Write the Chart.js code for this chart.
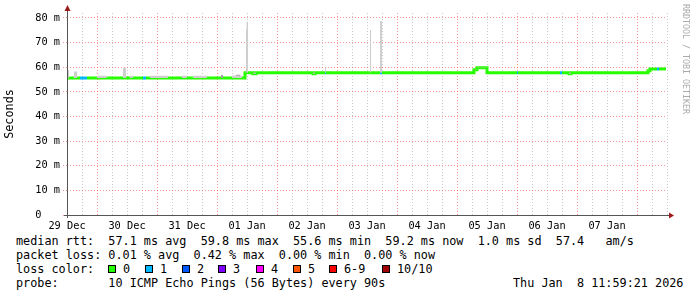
<!DOCTYPE html>
<html>
<head>
<meta charset="utf-8">
<script src="https://cdn.jsdelivr.net/npm/chart.js@4"></script>
<style>
    body { margin: 0; background: #fff; width: 697px; height: 297px; position: relative; overflow: hidden; }
    #wrap { position: absolute; left: 0; top: 0; width: 697px; height: 232px; }
    .row { position: absolute; left: 16px; font-family: "DejaVu Sans Mono", monospace; font-size: 11.8px; line-height: 14px; white-space: pre; color: #000; }
    .item { position: absolute; top: 0; white-space: pre; }
    .box { position: absolute; top: 3px; width: 8px; height: 8px; box-sizing: border-box; border: 1px solid #000; }
    #mark { position: absolute; left: 681px; top: 4px; writing-mode: vertical-rl; font-family: "DejaVu Sans Mono", monospace; font-size: 8.3px; color: #aaa; white-space: pre; }
</style>
</head>
<body>
<div id="wrap"><canvas id="smokeChart" width="697" height="232"></canvas></div>
<div id="mark">RRDTOOL / TOBI OETIKER</div>
<div class="row" style="top:234px">median rtt:  57.1 ms avg  59.8 ms max  55.6 ms min  59.2 ms now  1.0 ms sd  57.4   am/s</div>
<div class="row" style="top:248px">packet loss: 0.01 % avg  0.42 % max  0.00 % min  0.00 % now</div>
<div class="row" id="lossRow" style="top:262px">loss color:</div>
<div class="row" style="top:276px">probe:       10 ICMP Echo Pings (56 Bytes) every 90s</div>
<div class="row" style="top:276px; left:513px">Thu Jan  8 11:59:21 2026</div>

<script>
// hours since 29 Dec 12:00 (graph runs 240 h)
const dayLabels = ["29 Dec", "30 Dec", "31 Dec", "01 Jan", "02 Jan", "03 Jan", "04 Jan", "05 Jan", "06 Jan", "07 Jan"];

// median rtt (ms), step changes, and lost pings out of 10
const medHours  = [0, 5.2, 8, 30.4, 31.6, 71.2, 74.4, 75.6, 98.4, 99.2, 103.2, 103.6, 125.2, 126, 162.8, 164, 168, 180, 180.4, 197.2, 198, 200.8, 201.6, 232.4, 233.2, 236, 236.8, 239.6];
const medValues = [55.6, 55.6, 55.6, 55.6, 55.6, 57.7, 57.3, 57.7, 57.3, 57.7, 57.7, 57.7, 57.7, 57.7, 59.0, 59.8, 57.7, 57.7, 57.7, 57.7, 57.7, 57.3, 57.7, 58.6, 59.3, 59.3, 59.3, 59.3];
const medLoss   = [0, 1, 0, 1, 0, 0, 0, 0, 0, 0, 1, 0, 1, 0, 0, 0, 0, 1, 0, 1, 0, 0, 0, 0, 0, 1, 0, 0];

// smoke: upper edge of the ping spread (outer and inner)
const smokeHours = [0, 0.8, 2.8, 4, 12, 16, 22.4, 23.6, 25.2, 26.4, 33.2, 40.4, 46, 48, 50.4, 56, 66, 70, 71.8, 72.4, 103.2, 103.6, 121.2, 121.6, 125.2, 126, 239.6];
const smokeTop   = [58.9, 55.6, 58.3, 55.6, 56.5, 55.6, 59.8, 55.6, 56.5, 55.6, 56.5, 55.6, 56.5, 55.6, 56.5, 55.6, 56.6, 55.6, 78.4, 57.7, 59.8, 57.7, 75.1, 57.7, 78.8, 57.7, 57.7];
const darkHours  = [0, 61.6, 62.4, 67.6, 69.2, 71.8, 72.4, 103.2, 103.6, 125.2, 126, 239.6];
const darkTop    = [55.6, 56.8, 55.6, 56.9, 55.6, 75.4, 57.7, 59.8, 57.7, 74.7, 57.7, 57.7];

// legend for loss colours
const lossLabels = ["0", "1", "2", "3", "4", "5", "6-9", "10/10"];
const lossColors = ["#26ff00", "#00b8ff", "#0059ff", "#7e00ff", "#ff00ff", "#ff5500", "#ff0000", "#a10000"];

// y grid every 5 ms, labels every 10 ms
const yGrid = [0, 5, 10, 15, 20, 25, 30, 35, 40, 45, 50, 55, 60, 65, 70, 75, 80];

document.addEventListener("DOMContentLoaded", function () {
    // loss colour legend
    const lossRow = document.getElementById("lossRow");
    const boxLeft = [92, 129, 166, 202, 240, 277, 313, 366];
    lossLabels.forEach((label, i) => {
        let box = document.createElement("span");
        box.className = "box";
        box.style.left = boxLeft[i] + "px";
        box.style.background = lossColors[i];
        lossRow.appendChild(box);
        let txt = document.createElement("span");
        txt.className = "item";
        txt.style.left = (boxLeft[i] + 15) + "px";
        txt.textContent = label;
        lossRow.appendChild(txt);
    });

    const toPoints = (xs, ys) => xs.map((x, i) => ({ x: x, y: ys[i] }));
    const majorGrid = "rgba(255, 0, 0, 0.42)";
    const minorGrid = "rgba(128, 128, 128, 0.42)";

    // axes with arrows, like rrdtool draws them
    const axisArrows = {
        id: "axisArrows",
        afterDraw(chart) {
            const a = chart.chartArea;
            const c = chart.ctx;
            c.save();
            c.strokeStyle = "#555";
            c.lineWidth = 1;
            c.beginPath();
            c.moveTo(a.left + 0.5, a.bottom + 3);
            c.lineTo(a.left + 0.5, a.top - 4);
            c.moveTo(a.left - 3, a.bottom + 0.5);
            c.lineTo(a.right + 3, a.bottom + 0.5);
            c.stroke();
            c.fillStyle = "#9b1b1b";
            c.beginPath();
            c.moveTo(a.left + 0.5, a.top - 8);
            c.lineTo(a.left - 2.5, a.top - 2);
            c.lineTo(a.left + 3.5, a.top - 2);
            c.fill();
            c.beginPath();
            c.moveTo(a.right + 7, a.bottom + 0.5);
            c.lineTo(a.right + 2, a.bottom - 2.5);
            c.lineTo(a.right + 2, a.bottom + 3.5);
            c.fill();
            c.restore();
        }
    };

    let ctx = document.getElementById("smokeChart").getContext("2d");
    new Chart(ctx, {
        type: "line",
        data: {
            datasets: [
                {
                    label: "smoke",
                    data: toPoints(smokeHours, smokeTop),
                    stepped: true,
                    borderWidth: 0,
                    pointRadius: 0,
                    fill: { target: 2, above: "#cfcfcf", below: "rgba(0,0,0,0)" }
                },
                {
                    label: "smoke inner",
                    data: toPoints(darkHours, darkTop),
                    stepped: true,
                    borderWidth: 0,
                    pointRadius: 0,
                    fill: { target: 2, above: "#9c9c9c", below: "rgba(0,0,0,0)" }
                },
                {
                    label: "median rtt",
                    data: toPoints(medHours, medValues),
                    stepped: true,
                    borderWidth: 3,
                    pointRadius: 0,
                    fill: false,
                    borderColor: lossColors[0],
                    segment: {
                        borderColor: c => lossColors[medLoss[c.p0DataIndex]]
                    }
                }
            ]
        },
        options: {
            responsive: false,
            animation: false,
            devicePixelRatio: 1,
            layout: { padding: { left: 0, right: 30, top: 13, bottom: 0 } },
            plugins: { legend: { display: false }, tooltip: { enabled: false } },
            scales: {
                x: {
                    type: "linear",
                    min: 0,
                    max: 240,
                    afterFit: s => { s.height = 17; },
                    border: { display: false, dash: [1, 2] },
                    grid: {
                        drawTicks: false,
                        color: c => c.tick.value === 0 ? "rgba(0,0,0,0)" : (c.tick.value % 24 === 12 ? majorGrid : minorGrid)
                    },
                    ticks: {
                        stepSize: 6,
                        autoSkip: false,
                        maxRotation: 0,
                        padding: 5,
                        color: "#000",
                        font: { family: "DejaVu Sans Mono", size: 10.3 },
                        callback: v => (v % 24 === 0 && v < 240) ? dayLabels[v / 24] : ""
                    }
                },
                y: {
                    min: 0,
                    max: 82,
                    afterFit: s => { s.width = 67; },
                    afterBuildTicks: s => { s.ticks = yGrid.map(v => ({ value: v })); },
                    border: { display: false, dash: [1, 2] },
                    title: {
                        display: true,
                        text: "Seconds",
                        color: "#000",
                        padding: { top: 3, bottom: 0 },
                        font: { family: "DejaVu Sans Mono", size: 11.8 }
                    },
                    grid: {
                        tickLength: 4,
                        tickBorderDash: [1, 2],
                        color: c => {
                            const v = c.tick.value;
                            if (v === 0) return "rgba(0,0,0,0)";
                            return v % 10 === 0 ? majorGrid : minorGrid;
                        },
                        tickColor: c => c.tick.value % 10 === 0 ? majorGrid : "rgba(0,0,0,0)"
                    },
                    ticks: {
                        padding: 3,
                        color: "#000",
                        font: { family: "DejaVu Sans Mono", size: 10.3 },
                        callback: v => {
                            if (v % 10 !== 0) return "";
                            return v === 0 ? "0   " : v + " m";
                        }
                    }
                }
            }
        },
        plugins: [axisArrows]
    });
});
</script>
</body>
</html>
